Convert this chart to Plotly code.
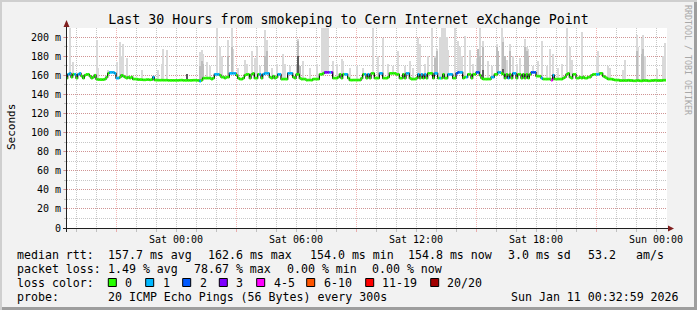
import plotly.graph_objects as go
import pandas as pd

# ---------------- data ----------------
first_step_end = "2026-01-09 18:35"
step_minutes = 5
range_start = "2026-01-09 18:32:59"
range_end = "2026-01-11 00:32:59"

# median rtt (ms), one row per hour, 12 five-minute steps each
median_ms = [
    157, 161, 162, 158, 161, 161, 157, 161, 162, 159, 157, 160,
    161, 161, 159, 157, 158, 160, 156, 155.5, 155.5, 155.5, 155.5, 156,
    158, 162, 163, 163, 163, 162, 157, 157, 158, 160, 159, 158,
    157, 158, 157, 158, 156, 156, 156, 155.5, 155.5, 155.5, 155.2, 155.2,
    155.5, 155.5, 155.2, 155.5, 158, 155, 154.8, 154.8, 154.8, 154.8, 154.8, 154.8,
    154.8, 154.6, 154.6, 154.6, 154.6, 154.6, 154.6, 154.6, 154.8, 154.8, 154.6, 154.6,
    154.6, 154.6, 154.6, 154.6, 154.8, 154.8, 154.6, 154.6, 153.8, 155, 157, 157,
    157, 157, 157, 156, 157, 161, 161, 161, 160, 158, 158, 157,
    158, 158, 162, 162, 162, 162, 160, 157, 156, 156, 157, 160,
    161, 161, 157, 161, 162, 157, 157, 161, 161, 157, 161, 162,
    162, 162, 158, 157, 159, 157, 158, 161, 161, 156, 156, 156,
    156, 162, 162, 162, 158, 157, 161, 161, 157, 156, 156, 156,
    155, 155, 155, 155, 156, 156, 156, 156, 161, 161, 162, 163,
    163, 163, 163, 163, 157, 157, 157, 158, 161, 157, 161, 161,
    161, 157, 155, 155, 155, 155, 155, 155, 155, 157, 161, 161,
    157, 161, 157, 162, 162, 157, 157, 157, 162, 162, 157, 157,
    157, 158, 162, 162, 162, 162, 161, 161, 157, 157, 161, 157,
    162, 162, 157, 156, 156, 156, 157, 161, 157, 161, 157, 161,
    157, 162, 162, 162, 157, 162, 162, 157, 157, 157, 161, 157,
    157, 161, 161, 161, 157, 157, 162, 163, 163, 163, 157, 158,
    158, 161, 161, 157, 161, 161, 163, 163, 160, 157, 156, 156,
    156, 156, 156, 158, 158, 161, 161, 163, 163, 162, 161, 157,
    161, 157, 161, 157, 162, 162, 157, 161, 161, 157, 161, 157,
    161, 157, 161, 163, 163, 163, 159, 159, 159, 157, 156, 156,
    156, 156, 156, 155, 160, 156, 156, 156, 156, 156, 157, 158,
    161, 162, 158, 157, 161, 161, 157, 157, 158, 157, 158, 157,
    157, 158, 158, 160, 161, 161, 161, 161, 162, 162, 159, 158,
    157, 156, 156, 156, 155.5, 155, 155, 155, 154.5, 154.5, 154.5, 154.5,
    154.5, 154.8, 154.5, 154.5, 154.2, 154.2, 154.5, 154.5, 154.2, 154.2, 154.5, 154.5,
    154.5, 154.2, 154.2, 154.5, 154.5, 154.8, 154.5, 154.5, 154.5, 154.5, 154.8, 154.8,
]

# lost pings (out of 20) per step
loss_pings = [
    0, 1, 1, 0, 0, 1, 0, 1, 1, 0, 0, 0,
    0, 0, 0, 0, 0, 0, 0, 0, 0, 0, 0, 0,
    0, 0, 1, 1, 1, 1, 1, 1, 0, 0, 0, 0,
    0, 0, 0, 0, 0, 0, 0, 0, 0, 0, 0, 0,
    0, 0, 0, 0, 1, 0, 0, 0, 0, 0, 0, 0,
    0, 0, 0, 0, 0, 0, 0, 0, 0, 0, 0, 0,
    0, 0, 0, 0, 0, 0, 0, 0, 1, 0, 0, 0,
    0, 0, 0, 0, 0, 1, 1, 1, 0, 0, 0, 0,
    0, 0, 1, 1, 1, 1, 0, 0, 0, 0, 0, 0,
    0, 0, 0, 0, 0, 0, 0, 0, 1, 0, 1, 1,
    1, 1, 0, 0, 0, 0, 0, 1, 1, 0, 0, 0,
    0, 1, 1, 1, 0, 0, 0, 0, 0, 0, 0, 0,
    0, 0, 0, 0, 0, 0, 0, 0, 0, 0, 0, 3,
    3, 3, 1, 3, 0, 0, 0, 0, 0, 0, 0, 1,
    1, 0, 0, 0, 0, 0, 0, 0, 0, 0, 0, 1,
    0, 1, 0, 0, 0, 0, 0, 0, 1, 1, 0, 0,
    0, 0, 0, 0, 0, 0, 0, 0, 0, 0, 0, 0,
    1, 1, 0, 0, 0, 0, 0, 1, 0, 1, 0, 1,
    0, 0, 0, 0, 0, 1, 1, 0, 1, 0, 0, 0,
    0, 1, 1, 1, 0, 0, 2, 2, 1, 1, 0, 0,
    1, 0, 0, 0, 0, 0, 2, 2, 0, 0, 0, 0,
    0, 0, 0, 1, 1, 0, 0, 1, 1, 0, 0, 0,
    0, 1, 0, 0, 1, 1, 0, 0, 0, 0, 0, 0,
    0, 0, 0, 2, 2, 2, 0, 0, 0, 1, 0, 0,
    0, 0, 0, 4, 1, 0, 0, 0, 0, 0, 0, 0,
    0, 0, 0, 0, 0, 0, 0, 0, 0, 0, 0, 0,
    0, 0, 0, 0, 0, 0, 1, 1, 0, 0, 0, 0,
    0, 0, 0, 0, 0, 0, 0, 0, 0, 0, 0, 0,
    0, 0, 0, 0, 0, 0, 0, 0, 0, 0, 0, 0,
    0, 0, 0, 0, 0, 0, 0, 0, 0, 0, 0, 0,
]

# highest ping of a step (light smoke), sparse
spike_steps = [2, 4, 18, 19, 25, 30, 32, 33, 34, 36, 45, 55, 57, 58, 60, 80, 81, 82, 84, 86,
               90, 92, 93, 97, 99, 100, 103, 107, 108, 111, 113, 114, 116, 119, 120, 123, 126,
               130, 131, 134, 139, 142, 146, 150, 153, 154, 155, 156, 157, 160, 162, 165, 166,
               170, 174, 178, 184, 187, 190, 193, 196, 199, 203, 206, 208, 211, 212, 215, 217,
               219, 221, 222, 224, 225, 226, 227, 228, 229, 233, 235, 236, 237, 239, 242, 244,
               246, 248, 250, 253, 255, 258, 259, 261, 262, 264, 266, 268, 270, 272, 275, 276,
               277, 280, 283, 285, 288, 290, 292, 295, 297, 300, 302, 303, 309, 318, 319, 325,
               326, 334, 335, 342, 343, 345, 346, 347, 354, 358, 359]
spike_top_ms = [215, 174, 197, 168, 166, 174, 195, 180, 193, 178, 166, 165, 172, 188, 186, 184, 186, 182, 174, 170,
                215, 190, 180, 197, 215, 188, 168, 176, 172, 185, 178, 190, 170, 207, 197, 168, 172,
                182, 172, 170, 198, 175, 168, 172, 215, 215, 215, 215, 215, 175, 172, 177, 175,
                168, 170, 168, 215, 180, 199, 172, 170, 185, 170, 175, 168, 199, 193, 172, 180,
                215, 180, 187, 200, 215, 215, 215, 200, 186, 215, 196, 190, 180, 201, 186, 172,
                178, 215, 196, 175, 170, 193, 185, 215, 200, 176, 193, 180, 172, 178, 198, 190,
                188, 170, 175, 196, 170, 188, 182, 168, 172, 215, 190, 176, 205, 180, 185, 170,
                168, 166, 176, 202, 190, 199, 202, 180, 167, 180, 194]

# denser part of the smoke (medium grey), sparse
dense_steps = [80, 81, 82, 97, 99, 119, 120, 138, 139, 140, 221, 222, 247, 248, 250, 258, 259,
               262, 263, 266, 275, 276, 277, 342, 345, 346]
dense_top_ms = [170, 175, 172, 180, 190, 180, 185, 172, 196, 170, 178, 185, 187, 180, 190, 190, 185,
                195, 180, 185, 190, 185, 180, 185, 182, 188]

# densest part of the smoke (dark), sparse
dark_steps = [72, 139, 250, 262]
dark_top_ms = [161, 180, 166, 167]

y_tick_values = [0, 20, 40, 60, 80, 100, 120, 140, 160, 180, 200]
y_tick_labels = ["0", "20 m", "40 m", "60 m", "80 m", "100 m", "120 m", "140 m", "160 m", "180 m", "200 m"]
x_label_times = ["2026-01-10 00:00", "2026-01-10 06:00", "2026-01-10 12:00", "2026-01-10 18:00", "2026-01-11 00:00"]
x_label_text = ["Sat 00:00", "Sat 06:00", "Sat 12:00", "Sat 18:00", "Sun 00:00"]
major_grid_times = ["2026-01-09 21:00", "2026-01-10 03:00", "2026-01-10 09:00", "2026-01-10 15:00", "2026-01-10 21:00"]
minor_grid_times = ["2026-01-09 19:00", "2026-01-09 20:00", "2026-01-09 22:00", "2026-01-09 23:00",
                    "2026-01-10 00:00", "2026-01-10 01:00", "2026-01-10 02:00", "2026-01-10 04:00",
                    "2026-01-10 05:00", "2026-01-10 06:00", "2026-01-10 07:00", "2026-01-10 08:00",
                    "2026-01-10 10:00", "2026-01-10 11:00", "2026-01-10 12:00", "2026-01-10 13:00",
                    "2026-01-10 14:00", "2026-01-10 16:00", "2026-01-10 17:00", "2026-01-10 18:00",
                    "2026-01-10 19:00", "2026-01-10 20:00", "2026-01-10 22:00", "2026-01-10 23:00",
                    "2026-01-11 00:00"]

loss_bin_labels = ["0", "1", "2", "3", "4-5", "6-10", "11-19", "20/20"]
loss_bin_upper = [0, 1, 2, 3, 5, 10, 19, 20]
loss_bin_colors = ["#26FF00", "#00B8FF", "#0059FF", "#7E00FF", "#FF00FF", "#FF5500", "#FF0000", "#A10000"]

title_text = "Last 30 Hours from smokeping to Cern Internet eXchange Point"
rtt_row = ["median rtt:", "157.7 ms avg", "162.6 ms max", "154.0 ms min", "154.8 ms now", "3.0 ms sd", "53.2", "am/s"]
loss_row = ["packet loss:", "1.49 % avg", "78.67 % max", "0.00 % min", "0.00 % now"]
loss_color_head = "loss color:"
probe_row = ["probe:", "20 ICMP Echo Pings (56 Bytes) every 300s"]
stamp_text = "Sun Jan 11 00:32:59 2026"
watermark = "RRDTOOL / TOBI OETIKER"
y_title = "Seconds"

# ---------------- layout helpers (pixels -> paper) ----------------
W, H = 697, 310
L, R, T, B = 67, 30, 28, 82
PW, PH = W - L - R, H - T - B


def fx(px):
    return (px - L) / PW


def fy(py):
    return (H - B - py) / PH


MONO = "DejaVu Sans Mono"

# ---------------- derived per-step series ----------------
n = len(median_ms)
t_end = pd.date_range(first_step_end, periods=n, freq=f"{step_minutes}min")
t_start = t_end - pd.Timedelta(minutes=step_minutes)
t_mid = t_end - pd.Timedelta(seconds=step_minutes * 30)
bar_w = step_minutes * 60 * 1000

light_top = [m + 1.2 for m in median_ms]
for s, v in zip(spike_steps, spike_top_ms):
    light_top[s] = max(light_top[s], v)
light_base = [m - 0.6 for m in median_ms]

fig = go.Figure()

fig.add_trace(go.Bar(x=t_mid, base=light_base, y=[a - b for a, b in zip(light_top, light_base)],
                     width=bar_w, marker=dict(color="#D9D9D9", line=dict(width=0)),
                     hoverinfo="skip"))
fig.add_trace(go.Bar(x=[t_mid[s] for s in dense_steps], base=[median_ms[s] for s in dense_steps],
                     y=[v - median_ms[s] for s, v in zip(dense_steps, dense_top_ms)],
                     width=bar_w, marker=dict(color="#BDBDBD", line=dict(width=0)), hoverinfo="skip"))
fig.add_trace(go.Bar(x=[t_mid[s] for s in dark_steps], base=[median_ms[s] for s in dark_steps],
                     y=[v - median_ms[s] for s, v in zip(dark_steps, dark_top_ms)],
                     width=bar_w, marker=dict(color="#5A5A5A", line=dict(width=0)), hoverinfo="skip"))

# thin dark connector of the median
fig.add_trace(go.Scatter(x=list(t_start) + [t_end[-1]], y=median_ms + [median_ms[-1]],
                         mode="lines", line=dict(color="#111111", width=1.3, shape="hv"),
                         hoverinfo="skip"))


def bin_of(lost):
    for k, up in enumerate(loss_bin_upper):
        if lost <= up:
            return k
    return len(loss_bin_upper) - 1


for k, col in enumerate(loss_bin_colors):
    xs, ys = [], []
    for i in range(n):
        if bin_of(loss_pings[i]) == k:
            xs += [t_start[i], t_end[i], None]
            ys += [median_ms[i], median_ms[i], None]
    if xs:
        fig.add_trace(go.Scatter(x=xs, y=ys, mode="lines", line=dict(color=col, width=2.7),
                                 hoverinfo="skip"))

# invisible traces carrying the extra x axes
fig.add_trace(go.Scatter(x=[range_start, range_end], y=[0, 0], xaxis="x2", mode="lines",
                         line=dict(width=0), opacity=0, hoverinfo="skip"))
fig.add_trace(go.Scatter(x=[range_start, range_end], y=[0, 0], xaxis="x3", mode="lines",
                         line=dict(width=0), opacity=0, hoverinfo="skip"))

GRID = "rgba(143,143,143,0.5)"
MGRID = "rgba(222,79,79,0.42)"
DASH = "1px,1px"

fig.update_layout(
    width=W, height=H,
    margin=dict(l=L, r=R, t=T, b=B, pad=0),
    paper_bgcolor="#F2F2F2", plot_bgcolor="#FFFFFF",
    showlegend=False, barmode="overlay", bargap=0,
    font=dict(family=MONO, size=10, color="#000000"),
    title=dict(text=title_text, x=0.5, xref="container", xanchor="center",
               y=1 - 19 / H, yref="container", yanchor="middle",
               font=dict(family=MONO, size=13.3, color="#000000")),
    # minor hourly grid
    xaxis3=dict(type="date", overlaying="x", anchor="y", range=[range_start, range_end],
                tickvals=minor_grid_times, showticklabels=False, showgrid=True, gridcolor=GRID,
                griddash=DASH, gridwidth=1, ticks="outside", ticklen=3, tickcolor=GRID,
                showline=False, zeroline=False),
    # major grid
    xaxis=dict(type="date", range=[range_start, range_end], tickvals=major_grid_times,
               showticklabels=False, showgrid=True, gridcolor=MGRID, griddash=DASH, gridwidth=1,
               ticks="outside", ticklen=3, tickcolor=MGRID, showline=False, zeroline=False),
    # labels
    xaxis2=dict(type="date", overlaying="x", anchor="y", side="bottom",
                range=[range_start, range_end], tickvals=x_label_times, ticktext=x_label_text,
                showgrid=False, ticks="", showline=False, zeroline=False,
                tickfont=dict(family=MONO, size=10, color="#000000"), ticklabelstandoff=4),
    yaxis=dict(range=[0, 209.5], tickvals=y_tick_values, ticktext=y_tick_labels,
               showgrid=True, gridcolor=MGRID, griddash=DASH, gridwidth=1,
               ticks="outside", ticklen=3, tickcolor=MGRID, zeroline=False, showline=False,
               tickfont=dict(family=MONO, size=10, color="#000000"),
               minor=dict(dtick=10, showgrid=True, gridcolor=GRID, griddash=DASH,
                          ticks="outside", ticklen=2, tickcolor=GRID)),
)

shapes = []
# frame shading
shapes.append(dict(type="rect", xref="paper", yref="paper", x0=fx(0), x1=fx(W), y0=fy(0), y1=fy(2),
                   fillcolor="#CFCFCF", line=dict(width=0), layer="above"))
shapes.append(dict(type="rect", xref="paper", yref="paper", x0=fx(0), x1=fx(2), y0=fy(0), y1=fy(H),
                   fillcolor="#CFCFCF", line=dict(width=0), layer="above"))
shapes.append(dict(type="rect", xref="paper", yref="paper", x0=fx(2), x1=fx(W), y0=fy(H - 3), y1=fy(H),
                   fillcolor="#9E9E9E", line=dict(width=0), layer="above"))
shapes.append(dict(type="rect", xref="paper", yref="paper", x0=fx(W - 3), x1=fx(W), y0=fy(2), y1=fy(H),
                   fillcolor="#9E9E9E", line=dict(width=0), layer="above"))
# axes
shapes.append(dict(type="line", xref="paper", yref="paper", x0=fx(66.5), x1=fx(66.5), y0=fy(232), y1=fy(25),
                   line=dict(color="#1F1F1F", width=1), layer="above"))
shapes.append(dict(type="line", xref="paper", yref="paper", x0=fx(63), x1=fx(669), y0=fy(228.5), y1=fy(228.5),
                   line=dict(color="#1F1F1F", width=1), layer="above"))


def path(points):
    return "M " + " L ".join(f"{fx(a)},{fy(b)}" for a, b in points) + " Z"


shapes.append(dict(type="path", xref="paper", yref="paper", path=path([(63.5, 27), (69.5, 27), (66.5, 20)]),
                   fillcolor="#801F1F", line=dict(width=0), layer="above"))
shapes.append(dict(type="path", xref="paper", yref="paper", path=path([(668, 225.5), (668, 231.5), (674, 228.5)]),
                   fillcolor="#801F1F", line=dict(width=0), layer="above"))

annotations = []


def txt(px, py, s, size=11.6, anchor="left", color="#000000", angle=0):
    annotations.append(dict(x=fx(px), y=fy(py), xref="paper", yref="paper", text=s, showarrow=False,
                            xanchor=anchor, yanchor="middle", textangle=angle,
                            font=dict(family=MONO, size=size, color=color)))


rtt_x = [16, 107.3, 207.3, 309.3, 406.7, 506.7, 586.7, 635]
for px, s in zip(rtt_x, rtt_row):
    txt(px - 1, 254.5, s)
loss_x = [16, 107.3, 193, 286, 371]
for px, s in zip(loss_x, loss_row):
    txt(px - 1, 268.5, s)
txt(15, 282.5, loss_color_head)
box_x = [108.3, 145.7, 182.7, 219.3, 256.7, 306.7, 365.7, 430.7]
label_x = [124, 161.7, 199, 235, 272.7, 322.7, 380.7, 445.7]
for bx, lx, lab, col in zip(box_x, label_x, loss_bin_labels, loss_bin_colors):
    shapes.append(dict(type="rect", xref="paper", yref="paper", x0=fx(bx), x1=fx(bx + 8),
                       y0=fy(286.5), y1=fy(278.5), fillcolor=col, line=dict(color="#000000", width=1),
                       layer="above"))
    txt(lx - 1, 282.5, lab)
probe_x = [16, 107.3]
for px, s in zip(probe_x, probe_row):
    txt(px - 1, 296.5, s)
txt(681, 296.5, stamp_text, anchor="right")
txt(11, 127, y_title, size=11, anchor="center", angle=-90)
txt(688, 60, watermark, size=8.3, anchor="center", color="#A8A8A8", angle=90)

fig.update_layout(shapes=shapes, annotations=annotations)
fig.write_html("out.html")
